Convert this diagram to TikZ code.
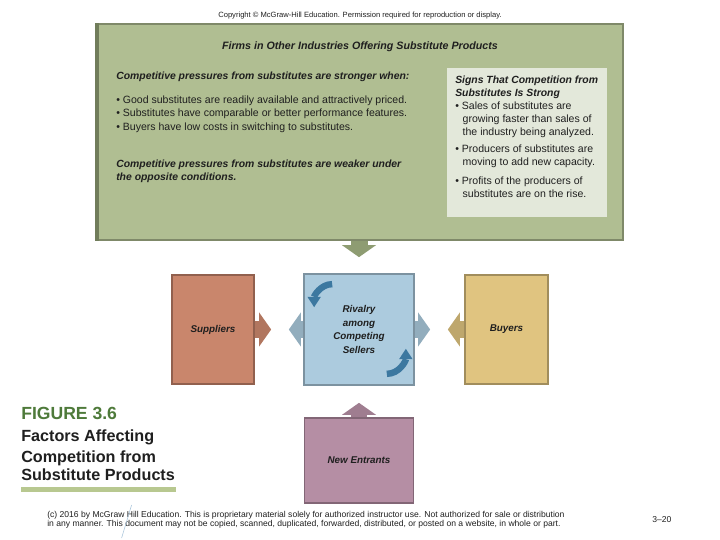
\documentclass[tikz,border=0pt]{standalone}
\usepackage{fontspec}
\setmainfont{Liberation Sans}
\usetikzlibrary{arrows.meta,positioning,calc}
\definecolor{sage}{HTML}{B0BE92}
\definecolor{sagedark}{HTML}{8E9C72}
\definecolor{signs}{HTML}{E3E8DA}
\definecolor{supc}{HTML}{C9866C}
\definecolor{rivc}{HTML}{ACCBDE}
\definecolor{buyc}{HTML}{E0C480}
\definecolor{newc}{HTML}{B58EA4}
\definecolor{curlc}{HTML}{3C78A0}
\definecolor{figgreen}{HTML}{4E7A3A}
\definecolor{figbar}{HTML}{B8C890}
\definecolor{strayline}{HTML}{A8C4DA}
\begin{document}
\begin{tikzpicture}[
  every node/.style={inner sep=0pt, text=black!88},
  panel/.style={draw=#1!72!black, fill=#1, line width=1.2pt},
  force/.style={panel=#1, minimum width=2.05cm, minimum height=2.725cm, align=center,
    font=\fontsize{7}{9.6}\selectfont\bfseries\itshape},
  fat/.style={draw=#1, line width=0.425cm, -{Triangle[width=0.85cm, length=0.3cm, line width=0pt]}},
  curl/.style={draw=curlc, line width=0.16cm, -{Triangle[width=0.34cm, length=0.26cm, line width=0pt]}},
  bodytext/.style={anchor=base west, font=\fontsize{7.5}{9.6}\selectfont},
  leadtext/.style={anchor=base west, font=\fontsize{7.4}{9.6}\selectfont\bfseries\itshape},
  captext/.style={anchor=base west, font=\fontsize{11.5}{14}\selectfont\bfseries},
  foottext/.style={anchor=base west, font=\fontsize{6.1}{7}\selectfont}
]
\useasboundingbox (0,0) rectangle (18,13.5);
\node[font=\fontsize{5.4}{6}\selectfont] (copy) at (9,13.1) {Copyright © McGraw-Hill Education. Permission required for reproduction or display.};
\node[panel=sage, minimum width=13.175cm, minimum height=5.4cm] (subst) at (8.9875,10.2) {};
\fill[sagedark!80!black] (subst.north west) rectangle ($(subst.south west)+(0.1,0)$);
\node[font=\fontsize{7.6}{9}\selectfont\bfseries\itshape] (title) at (9,12.32) {Firms in Other Industries Offering Substitute Products};
\node[leadtext] (strong) at (2.9,11.5125) {Competitive pressures from substitutes are stronger when:};
\node[bodytext] (c1) at (2.9,10.9125) {• Good substitutes are readily available and attractively priced.};
\node[bodytext] (c2) at (2.9,10.5875) {• Substitutes have comparable or better performance features.};
\node[bodytext] (c3) at (2.9,10.2375) {• Buyers have low costs in switching to substitutes.};
\node[leadtext] (weak1) at (2.9,9.3125) {Competitive pressures from substitutes are weaker under};
\node[leadtext] (weak2) at (2.9,8.9875) {the opposite conditions.};
\node[fill=signs, minimum width=4cm, minimum height=3.725cm] (signs) at (13.175,9.9375) {};
\node[leadtext] (s0) at (11.375,11.42) {Signs That Competition from};
\node[leadtext] (s1) at (11.375,11.095) {Substitutes Is Strong};
\node[bodytext] (s2) at (11.375,10.76) {• Sales of substitutes are};
\node[bodytext] (s3) at (11.56,10.435) {growing faster than sales of};
\node[bodytext] (s4) at (11.56,10.11) {the industry being analyzed.};
\node[bodytext] (s5) at (11.375,9.68) {• Producers of substitutes are};
\node[bodytext] (s6) at (11.56,9.355) {moving to add new capacity.};
\node[bodytext] (s7) at (11.375,8.88) {• Profits of the producers of};
\node[bodytext] (s8) at (11.56,8.555) {substitutes are on the rise.};
\node[force=supc] (sup) at (5.325,5.2625) {Suppliers};
\node[force=rivc, minimum width=2.75cm, minimum height=2.775cm] (riv) at (8.975,5.2625) {Rivalry\\among\\Competing\\Sellers};
\node[force=buyc, minimum width=2.075cm] (buy) at (12.6625,5.2625) {Buyers};
\node[force=newc, minimum width=2.725cm, minimum height=2.125cm] (new) at (8.975,1.9875) {New Entrants};
\draw[fat=sagedark, shorten >=0.4cm] (subst.south -| riv.north) -- (riv.north);
\draw[fat=supc!88!black, shorten >=0.8cm] (sup.east) -- (riv.west);
\draw[fat=rivc!85!black, shorten >=0.85cm] (riv.west) -- (sup.east);
\draw[fat=rivc!85!black, shorten >=0.85cm] (riv.east) -- (buy.west);
\draw[fat=buyc!85!black, shorten >=0.825cm] (buy.west) -- (riv.east);
\draw[fat=newc!88!black, line width=0.38cm, shorten >=0.425cm] (new.north) -- (riv.south);
\draw[curl] ($(riv.north west)+(0.725,-0.275)$) to[out=180,in=90] ($(riv.north west)+(0.275,-0.85)$);
\draw[curl] ($(riv.south east)+(-0.7,0.3)$) to[out=0,in=-90] ($(riv.south east)+(-0.225,0.925)$);
\node[captext, font=\fontsize{12.5}{14}\selectfont\bfseries, text=figgreen] (fig) at (0.525,3.02) {FIGURE 3.6};
\node[captext] (cap1) at (0.525,2.45) {Factors Affecting};
\node[captext] (cap2) at (0.525,1.95) {Competition from};
\node[captext] (cap3) at (0.525,1.475) {Substitute Products};
\fill[figbar] (0.525,1.2) rectangle (4.4,1.325);
\node[foottext] (foot1) at (1.175,0.56) {(c) 2016 by McGraw Hill Education. This is proprietary material solely for authorized instructor use. Not authorized for sale or distribution};
\node[foottext] (foot2) at (1.175,0.335) {in any manner. This document may not be copied, scanned, duplicated, forwarded, distributed, or posted on a website, in whole or part.};
\node[foottext] (page) at (16.3,0.45) {3–20};
\draw[strayline, line width=0.4pt] (3.29,0.875) -- (3.04,0.05);
\end{tikzpicture}
\end{document}
